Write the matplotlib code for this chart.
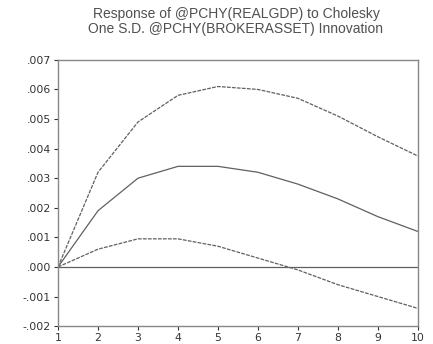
import matplotlib
matplotlib.use("Agg")
import matplotlib.pyplot as plt
from matplotlib.ticker import FuncFormatter

# periods and impulse response (with +/- 2 S.E. bands)
periodos = [1, 2, 3, 4, 5, 6, 7, 8, 9, 10]
resposta = [0.0, 0.0019, 0.0030, 0.0034, 0.0034, 0.0032, 0.0028, 0.0023, 0.0017, 0.0012]
banda_sup = [0.0, 0.0032, 0.0049, 0.0058, 0.0061, 0.0060, 0.0057, 0.0051, 0.0044, 0.00375]
banda_inf = [0.0, 0.0006, 0.00095, 0.00095, 0.0007, 0.0003, -0.0001, -0.0006, -0.0010, -0.0014]
y_ticks = [-0.002, -0.001, 0.0, 0.001, 0.002, 0.003, 0.004, 0.005, 0.006, 0.007]

cinza = "#606060"

fig = plt.figure(figsize=(4.33, 3.44), dpi=100)
ax = fig.add_axes([0.134, 0.052, 0.831, 0.774])

ax.axhline(0, color=cinza, lw=0.9)
ax.plot(periodos, banda_sup, color=cinza, lw=0.9, ls=(0, (3, 1)))
ax.plot(periodos, resposta, color=cinza, lw=0.9)
ax.plot(periodos, banda_inf, color=cinza, lw=0.9, ls=(0, (3, 1)))

ax.set_xlim(1, 10)
ax.set_ylim(-0.002, 0.007)
ax.set_xticks(periodos)
ax.set_yticks(y_ticks)

def fmt(v, pos):
    s = f"{v:.3f}"
    return s.replace("0.", ".", 1)

ax.yaxis.set_major_formatter(FuncFormatter(fmt))
ax.tick_params(labelsize=7.8, colors="#333333", length=3, width=0.8, pad=2)
for s in ax.spines.values():
    s.set_color("#888888")
    s.set_linewidth(1.0)

fig.text(0.545, 0.959, "Response of @PCHY(REALGDP) to Cholesky", ha="center",
         va="center", fontsize=10, color="#505050", family="Liberation Sans")
fig.text(0.545, 0.917, "One S.D. @PCHY(BROKERASSET) Innovation", ha="center",
         va="center", fontsize=10, color="#505050", family="Liberation Sans")

fig.savefig("out.png", dpi=100)
